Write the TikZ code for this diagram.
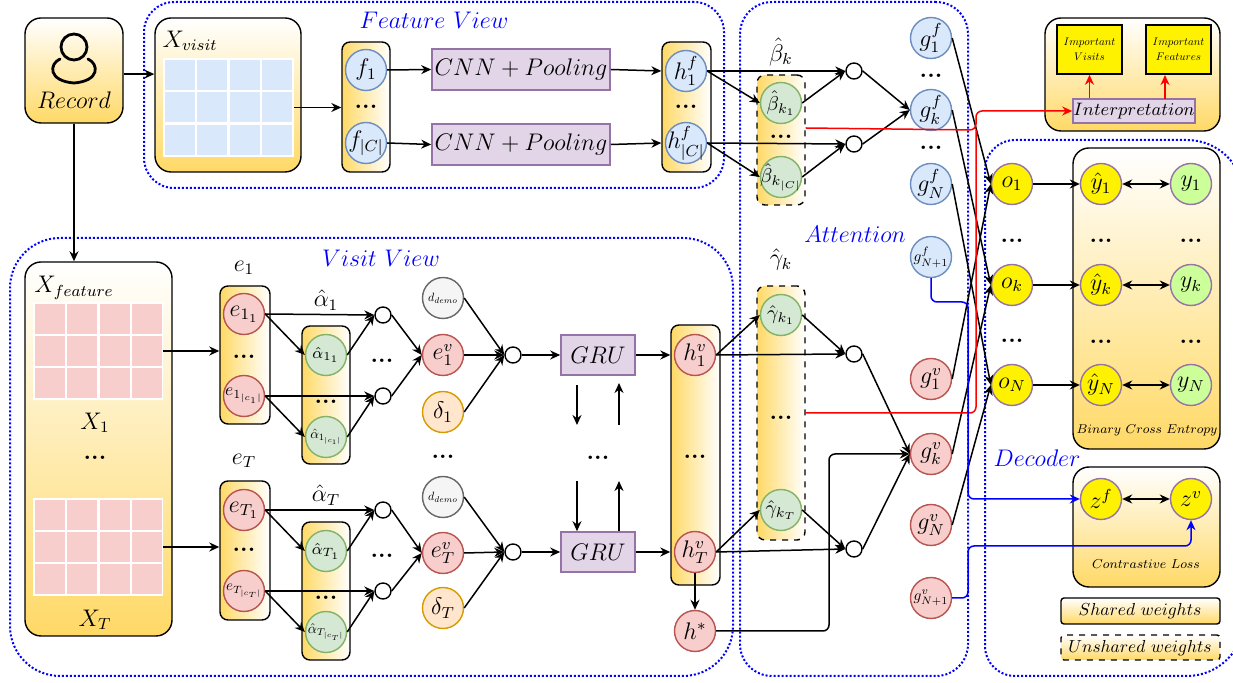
\documentclass[tikz,border=0pt]{standalone}
\usepackage{amsmath}
\usepackage{amssymb}
\usetikzlibrary{arrows.meta,fit,positioning}
\definecolor{goldfill}{HTML}{FFD966}
\definecolor{featblue}{HTML}{DAE8FC}
\definecolor{featline}{HTML}{6C8EBF}
\definecolor{pinkfill}{HTML}{F8CECC}
\definecolor{pinkline}{HTML}{B85450}
\definecolor{attfill}{HTML}{D5E8D4}
\definecolor{attline}{HTML}{82B366}
\definecolor{purpfill}{HTML}{E1D5E7}
\definecolor{purpline}{HTML}{9673A6}
\definecolor{deltafill}{HTML}{FFE6CC}
\definecolor{deltaline}{HTML}{D79B00}
\definecolor{labelfill}{HTML}{CCFF99}
\tikzset{
  arr/.style={-{Stealth[length=5pt,width=4.5pt]},line width=0.75pt},
  dblarr/.style={{Stealth[length=5pt,width=4.5pt]}-{Stealth[length=5pt,width=4.5pt]},line width=0.75pt},
  framel/.style={draw=blue,line width=1pt,dash pattern=on 1pt off 1pt,inner sep=0pt},
  boxv/.style={draw=black,line width=0.7pt,rounded corners=8pt,inner sep=0pt,top color=white,bottom color=goldfill},
  stackh/.style={draw=black,line width=0.7pt,rounded corners=4pt,inner sep=0pt,left color=goldfill,right color=white},
  stackdash/.style={stackh,dashed},
  circ/.style={circle,draw,line width=0.7pt,minimum size=20.5pt,inner sep=-5pt,font=\large},
  circf/.style={circ,fill=featblue,draw=featline},
  circe/.style={circ,fill=pinkfill,draw=pinkline},
  circa/.style={circ,fill=attfill,draw=attline},
  circo/.style={circ,fill=yellow,draw=purpline},
  circy/.style={circ,fill=labelfill,draw=purpline},
  sumc/.style={circle,draw=black,fill=white,line width=0.7pt,minimum size=8pt,inner sep=0pt},
  opbox/.style={draw=purpline,fill=purpfill,line width=0.8pt,inner sep=0pt},
  impbox/.style={draw=black,fill=yellow,line width=0.8pt,inner sep=0pt},
  dotsn/.style={font=\large\bfseries,inner sep=0pt},
  viewlab/.style={text=blue,font=\large,inner sep=0pt},
  lab/.style={font=\large,inner sep=0pt},
  cellb/.style={fill=featblue,draw=none},
  cellp/.style={fill=pinkfill,draw=none},
}
\begin{document}
\begin{tikzpicture}[x=0.5pt,y=-0.5pt]
  \useasboundingbox (0,0) rectangle (1233,683);

  % Dotted views
  \node[framel,rounded corners=15pt,fit={(144,2) (724,188)}] (featview) {};
  \node[framel,rounded corners=25pt,fit={(10,238) (733,676)}] (visitview) {};
  \node[framel,rounded corners=16pt,fit={(740,2) (968,676)}] (attview) {};
  \draw[framel,rounded corners=15pt] (985,400) -- (985,140) [rounded corners=28.5pt] -- (1244,140) -- (1244,676) [rounded corners=15pt] -- (985,676) -- cycle;
  \node[viewlab] (featlab) at (434,20) {$Feature\ View$};
  \node[viewlab] (visitlab) at (381,258) {$Visit\ View$};
  \node[viewlab] (attlab) at (855,234) {$Attention$};
  \node[viewlab] (declab) at (1037,458) {$Decoder$};

  % Record
  \node[boxv,fit={(25,18) (123,123)}] (rec) {};
  \node[circle,draw=black,line width=1.4pt,minimum size=13pt,inner sep=0pt] (head) at (74,47) {};
  \draw[line width=1.4pt,line cap=round] (60,59) .. controls (49,64) and (48,81) .. (74,83) .. controls (100,81) and (99,64) .. (88,59);
  \node[lab] (rectext) at (74,100) {$Record$};

  % Input tables
  \node[boxv,fit={(155,18) (301,172)}] (xvisit) {};
  \node[lab] (xvisitlab) at (190,41) {$X_{visit}$};
  \node[fill=white,inner sep=0pt,fit={(163,58) (294,157)}] (gridv) {};
  \foreach \x in {165,197,230,262} {
    \foreach \y in {60,92,125} {
      \fill[cellb] (\x,\y) rectangle ++(30,30);
    }
  }
  \node[boxv,fit={(25,262) (172,636)}] (xfeat) {};
  \node[lab] (xfeatlab) at (74,288) {$X_{feature}$};
  \node[fill=white,inner sep=0pt,fit={(33,302) (163,400)}] (gridone) {};
  \node[fill=white,inner sep=0pt,fit={(33,498) (163,596)}] (gridt) {};
  \foreach \x in {35,67,100,132} {
    \foreach \y in {304,336,368} {
      \fill[cellp] (\x,\y) rectangle ++(30,30);
      \fill[cellp] (\x,\y+196) rectangle ++(30,30);
    }
  }
  \node[lab] (xone) at (95,423) {$X_1$};
  \node[dotsn] (xdots) at (95,458) {...};
  \node[lab] (xt) at (95,620) {$X_T$};

  % Feature path
  \node[stackh,fit={(342,42) (390,172)}] (fstack) {};
  \node[circf] (fone) at (366,70) {$f_1$};
  \node[dotsn] (fdots) at (366,107) {...};
  \node[circf] (fc) at (366,143) {$f_{|C|}$};
  \node[opbox,minimum width=89pt,minimum height=20.5pt,font=\large] (cnnone) at (521,69.5) {$CNN+Pooling$};
  \node[opbox,minimum width=89pt,minimum height=20.5pt,font=\large] (cnnc) at (521,144.5) {$CNN+Pooling$};
  \node[stackh,fit={(662,42) (711,172)}] (hfstack) {};
  \node[circf] (hfone) at (686,71) {$h_1^f$};
  \node[dotsn] (hfdots) at (686,107) {...};
  \node[circf] (hfc) at (686,143) {$h_{|C|}^f$};

  % Visit path, first visit
  \node[lab] (eonelab) at (244,268) {$e_1$};
  \node[stackh,fit={(220,286) (270,424)}] (eone) {};
  \node[circe] (eoneone) at (244,314) {$e_{1_1}$};
  \node[dotsn] (eonedots) at (244,357) {...};
  \node[circe,font=\normalsize] (eonec) at (244,396) {\scalebox{0.88}{$e_{1_{|c_1|}}$}};
  \node[lab] (aonelab) at (326,300) {$\hat{\alpha}_1$};
  \node[stackh,fit={(302,326) (350,464)}] (aone) {};
  \node[circa,font=\footnotesize] (aoneone) at (326,355) {$\hat{\alpha}_{1_1}$};
  \node[dotsn] (aonedots) at (326,402) {...};
  \node[circa,font=\normalsize] (aonec) at (326,437) {\scalebox{0.68}{$\hat{\alpha}_{1_{|c_1|}}$}};
  \node[sumc] (sone) at (383,315) {};
  \node[sumc] (stwo) at (383,396) {};
  \node[dotsn] (sdotsone) at (382,361) {...};
  \node[circ,fill=black!4,draw=black!60,font=\normalsize] (done) at (443,298) {\scalebox{0.6}{$d_{demo}$}};
  \node[circe] (evone) at (443,355) {$e_1^v$};
  \node[circ,fill=deltafill,draw=deltaline] (deltaone) at (443,412) {$\delta_1$};
  \node[sumc] (sthree) at (513,355) {};
  \node[dotsn] (ddots) at (443,457) {...};

  % Visit path, last visit
  \node[lab] (etlab) at (244,461) {$e_T$};
  \node[stackh,fit={(220,481) (270,620)}] (et) {};
  \node[circe] (etone) at (244,510) {$e_{T_1}$};
  \node[dotsn] (etdots) at (244,550) {...};
  \node[circe,font=\normalsize] (etc) at (244,591) {\scalebox{0.75}{$e_{T_{|c_T|}}$}};
  \node[lab] (atlab) at (326,495) {$\hat{\alpha}_T$};
  \node[stackh,fit={(302,522) (350,660)}] (at) {};
  \node[circa,font=\footnotesize] (atone) at (326,551) {$\hat{\alpha}_{T_1}$};
  \node[dotsn] (atdots) at (326,598) {...};
  \node[circa,font=\normalsize] (atc) at (326,632) {\scalebox{0.71}{$\hat{\alpha}_{T_{|c_T|}}$}};
  \node[sumc] (sfour) at (383,510) {};
  \node[sumc] (sfive) at (383,591) {};
  \node[dotsn] (sdotst) at (382,556) {...};
  \node[circ,fill=black!4,draw=black!60,font=\normalsize] (dt) at (443,497) {\scalebox{0.6}{$d_{demo}$}};
  \node[circe] (evt) at (443,553) {$e_T^v$};
  \node[circ,fill=deltafill,draw=deltaline] (deltat) at (443,608) {$\delta_T$};
  \node[sumc] (ssix) at (513,552) {};

  % GRU
  \node[opbox,minimum width=37pt,minimum height=20pt,font=\large] (gruone) at (598,355) {$GRU$};
  \node[opbox,minimum width=37pt,minimum height=20pt,font=\large] (grut) at (598,552) {$GRU$};
  \node[dotsn] (grudots) at (598,458) {...};
  \coordinate (dna) at (577,385);
  \coordinate (dnb) at (577,425);
  \coordinate (upa) at (619,425);
  \coordinate (upb) at (619,383);
  \coordinate (dnc) at (577,481);
  \coordinate (upc) at (619,481);
  \node[stackh,fit={(671,325) (720,585)}] (hvstack) {};
  \node[circe] (hvone) at (695,355) {$h_1^v$};
  \node[dotsn] (hvdots) at (695,457) {...};
  \node[circe] (hvt) at (695,552) {$h_T^v$};
  \node[circe] (hstar) at (695,631) {$h^*$};

  % Attention
  \node[lab] (betalab) at (781,52) {$\hat{\beta}_k$};
  \node[stackdash,fit={(757,75) (805,205)}] (betastack) {};
  \node[circa,font=\normalsize] (betaone) at (781,103) {$\hat{\beta}_{k_1}$};
  \node[dotsn] (betadots) at (781,137) {...};
  \node[circa,font=\normalsize] (betac) at (781,177) {$\hat{\beta}_{k_{|C|}}$};
  \node[sumc] (bsone) at (854,71) {};
  \node[sumc] (bstwo) at (854,144) {};
  \node[lab] (gammalab) at (781,260) {$\hat{\gamma}_k$};
  \node[stackdash,fit={(757,286) (805,540)}] (gammastack) {};
  \node[circa,font=\normalsize] (gammaone) at (781,315) {$\hat{\gamma}_{k_1}$};
  \node[dotsn] (gammadots) at (781,418) {...};
  \node[circa,font=\normalsize] (gammat) at (781,510) {$\hat{\gamma}_{k_T}$};
  \node[sumc] (gsone) at (854,354) {};
  \node[sumc] (gstwo) at (854,549) {};

  % Fused outputs
  \node[circf] (gfone) at (931,38) {$g_1^f$};
  \node[dotsn] (gfdotsa) at (931,76) {...};
  \node[circf] (gfk) at (931,110) {$g_k^f$};
  \node[dotsn] (gfdotsb) at (931,148) {...};
  \node[circf] (gfn) at (931,184) {$g_N^f$};
  \node[circf,font=\normalsize] (gfm) at (931,257) {\scalebox{0.77}{$g_{N+1}^f$}};
  \node[circe] (gvone) at (931,379) {$g_1^v$};
  \node[circe] (gvk) at (931,454) {$g_k^v$};
  \node[circe] (gvn) at (931,525) {$g_N^v$};
  \node[circe,font=\normalsize] (gvm) at (931,598) {\scalebox{0.77}{$g_{N+1}^v$}};

  % Decoder
  \node[boxv,fit={(1073,148) (1220,449)}] (bcebox) {};
  \node[boxv,fit={(1073,467) (1220,587)}] (clbox) {};
  \node[circo] (oone) at (1012,184) {$o_1$};
  \node[dotsn] (odotsa) at (1012,241) {...};
  \node[circo] (ok) at (1012,285) {$o_k$};
  \node[dotsn] (odotsb) at (1012,341) {...};
  \node[circo] (on) at (1012,385) {$o_N$};
  \foreach \nm/\yy/\sb in {one/184/1,k/285/k,n/385/N} {
    \node[circo] (yh\nm) at (1101,\yy) {$\hat{y}_\sb$};
    \node[circy] (yt\nm) at (1191,\yy) {$y_\sb$};
    \draw[arr] (o\nm.east) -- (yh\nm.west);
    \draw[dblarr] (yh\nm.east) -- (yt\nm.west);
  }
  \node[dotsn] (yhdotsa) at (1101,241) {...};
  \node[dotsn] (ytdotsa) at (1191,241) {...};
  \node[dotsn] (yhdotsb) at (1101,342) {...};
  \node[dotsn] (ytdotsb) at (1191,342) {...};
  \node[font=\footnotesize,scale=0.8,inner sep=0pt] (bcelab) at (1147,430) {$Binary\ Cross\ Entropy$};
  \node[circo] (zf) at (1101,499) {$z^f$};
  \node[circo] (zv) at (1191,499) {$z^v$};
  \node[font=\footnotesize,scale=0.81,inner sep=0pt] (cllab) at (1146,564) {$Contrastive\ Loss$};

  % Interpretation
  \node[boxv,fit={(1045,18) (1220,131)}] (intbox) {};
  \node[impbox,minimum width=32.5pt,minimum height=24.5pt,align=center] (impv) at (1089.5,49.5) {\scalebox{0.55}{$Important$}\\[-4.5pt]\scalebox{0.55}{$Visits$}};
  \node[impbox,minimum width=32.5pt,minimum height=24.5pt,align=center] (impf) at (1178.5,49.5) {\scalebox{0.55}{$Important$}\\[-4.5pt]\scalebox{0.55}{$Features$}};
  \node[opbox,minimum width=61pt,minimum height=12pt,font=\small] (interp) at (1134,111) {$Interpretation$};

  % Legend
  \node[boxv,rounded corners=1.5pt,fit={(1061,598) (1220,624)}] (sharedbox) {};
  \node[scale=0.87,inner sep=0pt] (sharedlab) at (1140,611) {$Shared\ weights$};
  \node[boxv,rounded corners=1.5pt,dashed,fit={(1061,635) (1220,660)}] (unsharedbox) {};
  \node[scale=0.87,inner sep=0pt] (unsharedlab) at (1140,648) {$Unshared\ weights$};

  % Connectors
  \draw[arr] ([yshift=-1.8pt]rec.east) -- ([yshift=-1.8pt]rec.east -| xvisit.west);
  \draw[arr] (rec.south) -- (rec.south |- xfeat.north);
  \draw[arr] (gridv.east) -- (gridv.east -| fstack.west);
  \draw[arr] (fone.east) -- (cnnone.west);
  \draw[arr] (fc.east) -- (cnnc.west);
  \draw[arr] (cnnone.east) -- (hfstack.west |- hfone);
  \draw[arr] (cnnc.east) -- (hfstack.west |- hfc);
  \draw[arr] (gridone.east) -- (gridone.east -| eone.west);
  \draw[arr] (gridt.east) -- (gridt.east -| et.west);

  \foreach \ee/\aa/\su in {eoneone/aoneone/sone,eonec/aonec/stwo,etone/atone/sfour,etc/atc/sfive} {
    \draw[arr] (\ee.east) -- (\su.west);
    \draw[arr] (\ee.east) -- (\aa.west);
    \draw[arr] (\aa.east) -- (\su.west);
  }
  \foreach \su/\ev in {sone/evone,stwo/evone,sfour/evt,sfive/evt} {
    \draw[arr] (\su.east) -- (\ev.west);
  }
  \foreach \aa/\su in {done/sthree,evone/sthree,deltaone/sthree,dt/ssix,evt/ssix,deltat/ssix} {
    \draw[arr] (\aa.east) -- (\su.west);
  }
  \draw[arr] (sthree.east) -- (gruone.west);
  \draw[arr] (ssix.east) -- (grut.west);
  \draw[arr] (gruone.east) -- (gruone.east -| hvstack.west);
  \draw[arr] (grut.east) -- (grut.east -| hvstack.west);
  \draw[arr] (dna) -- (dnb);
  \draw[arr] (upa) -- (upb);
  \draw[arr] (dnc) -- (dnc |- grut.north);
  \draw[arr] (upc |- grut.north) -- (upc);
  \draw[arr] (hvt.south) -- (hstar.north);

  \draw[arr] (hfone.east) -- (bsone.west);
  \draw[arr] (hfone.east) -- (betaone.west);
  \draw[arr] (hfc.east) -- (bstwo.west);
  \draw[arr] (hfc.east) -- (betac.west);
  \draw[arr] (betaone.east) -- (bsone.west);
  \draw[arr] (betac.east) -- (bstwo.west);
  \draw[arr] (bsone.east) -- (gfk.west);
  \draw[arr] (bstwo.east) -- (gfk.west);

  \draw[arr] (hvone.east) -- (gsone.west);
  \draw[arr] (hvone.east) -- (gammaone.west);
  \draw[arr] (hvt.east) -- (gstwo.west);
  \draw[arr] (hvt.east) -- (gammat.west);
  \draw[arr] (gammaone.east) -- (gsone.west);
  \draw[arr] (gammat.east) -- (gstwo.west);
  \draw[arr] (gsone.east) -- (gvk.west);
  \draw[arr] (gstwo.east) -- (gvk.west);
  \coordinate (hcorner) at (829,454);
  \draw[arr,rounded corners=3pt] (hstar.east) -| (hcorner) -- (gvk.west);

  \draw[arr] (gfone.east) -- (oone.west);
  \draw[arr] (gvone.east) -- (oone.west);
  \draw[arr] (gfk.east) -- (ok.west);
  \draw[arr] (gvk.east) -- (ok.west);
  \draw[arr] (gfn.east) -- (on.west);
  \draw[arr] (gvn.east) -- (on.west);

  \draw[dblarr] (zf.east) -- (zv.west);

  % Red and blue routes
  \coordinate (reda) at (976,130);
  \coordinate (redb) at (1165,99);
  \coordinate (redc) at (1165,75);
  \draw[arr,red,rounded corners=3pt] ([yshift=6pt]betastack.east) -- (reda) |- (interp.west);
  \draw[line width=0.75pt,red,rounded corners=3pt] (gammastack.east) -| (reda);
  \draw[arr,red] (interp.north -| impv) -- (impv.south);
  \draw[arr,red] (redb) -- (redc);
  \coordinate (bluea) at (968,302);
  \coordinate (blueb) at (968,546);
  \draw[arr,blue,rounded corners=3pt] (gfm.south) |- (bluea) |- (zf.west);
  \draw[arr,blue,rounded corners=3pt] (gvm.east) -| (blueb) -| (zv.south);
\end{tikzpicture}
\end{document}
